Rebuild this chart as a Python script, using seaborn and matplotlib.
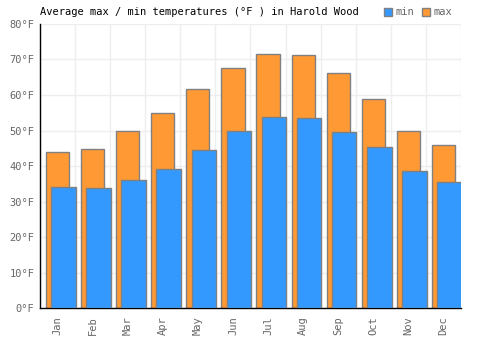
import matplotlib
matplotlib.use("Agg")
import matplotlib.pyplot as plt
import seaborn as sns
import pandas as pd
from matplotlib.patches import Patch

months = ["Jan", "Feb", "Mar", "Apr", "May", "Jun", "Jul", "Aug", "Sep", "Oct", "Nov", "Dec"]
max_temps = [44.0, 44.7, 49.8, 54.8, 61.7, 67.7, 71.4, 71.1, 66.1, 58.9, 50.0, 45.8]
min_temps = [34.0, 33.7, 36.2, 39.3, 44.4, 49.8, 53.7, 53.4, 49.5, 45.3, 38.5, 35.4]
y_ticks = [0, 10, 20, 30, 40, 50, 60, 70, 80]
y_labels = [f"{v}°F" for v in y_ticks]

df = pd.DataFrame({"month": months, "max": max_temps, "min": min_temps})

sns.set_theme(style="white")
plt.rcParams["font.family"] = ["DejaVu Sans Mono", "DejaVu Sans"]

fig = plt.figure(figsize=(5, 3.5), dpi=100)
ax = fig.add_axes([0.08, 0.119, 0.842, 0.813])

orange = "#ff9933"
blue = "#3399ff"
edge = "#808080"

sns.barplot(data=df, x="month", y="max", color=orange, width=0.66, saturation=1,
            edgecolor=edge, linewidth=1, ax=ax, zorder=2)
n_before = len(ax.patches)
sns.barplot(data=df, x="month", y="min", color=blue, width=0.70, saturation=1,
            edgecolor=edge, linewidth=1, ax=ax, zorder=3)
for p in ax.patches[n_before:]:
    p.set_x(p.get_x() + 0.17)

ax.set_xlim(-0.5, 11.5)
ax.set_ylim(0, 80)
ax.set_yticks(y_ticks)
ax.set_yticklabels(y_labels)
ax.set_xlabel("")
ax.set_ylabel("")

# grid
ax.set_xticks([i - 0.5 for i in range(13)], minor=True)
ax.grid(True, axis="y", color="#eeeeee", linewidth=1, zorder=0)
ax.grid(True, axis="x", which="minor", color="#eeeeee", linewidth=1, zorder=0)
ax.set_axisbelow(True)

ax.set_xticks(range(12))
ax.set_xticklabels(months, rotation=90)
ax.tick_params(axis="both", labelsize=7.5, colors="#666666", length=0, pad=4)
ax.tick_params(axis="x", pad=6)

for s in ["top", "right"]:
    ax.spines[s].set_visible(False)
ax.spines["left"].set_color("black")
ax.spines["bottom"].set_color("black")
ax.spines["left"].set_linewidth(1)
ax.spines["bottom"].set_linewidth(1)

fig.text(0.08, 0.965, "Average max / min temperatures (°F ) in Harold Wood",
         fontsize=7.5, color="black", va="center", ha="left")

handles = [Patch(facecolor=blue, edgecolor=edge, label="min"),
           Patch(facecolor=orange, edgecolor=edge, label="max")]
leg = fig.legend(handles=handles, loc="center right", bbox_to_anchor=(0.915, 0.965),
                 ncol=2, frameon=False, fontsize=7.5, handlelength=0.8, handleheight=0.8,
                 handletextpad=0.3, columnspacing=0.8, borderpad=0)
for t in leg.get_texts():
    t.set_color("#666666")

fig.savefig("out.png", dpi=100)
